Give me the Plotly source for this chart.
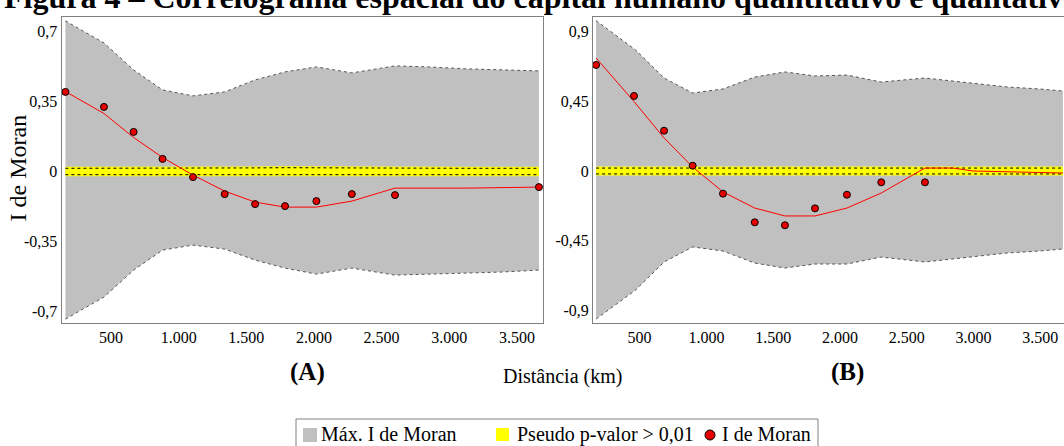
import plotly.graph_objects as go

W, H = 1064, 446
FONT = "Liberation Serif"

# ---------------- Panel A data ----------------
dist_a = [163, 448, 667, 881, 1106, 1340, 1565, 1786, 2018, 2280, 2599, 3663]
moran_a = [0.398, 0.323, 0.198, 0.063, -0.028, -0.113, -0.163, -0.173, -0.148, -0.113, -0.118, -0.078]
smooth_dist_a = [163, 448, 667, 881, 1106, 1340, 1565, 1786, 2018, 2280, 2599, 3138, 3663]
smooth_a = [0.40, 0.29, 0.17, 0.07, -0.018, -0.098, -0.153, -0.178, -0.178, -0.148, -0.083, -0.083, -0.078]
band_dist_a = [163, 448, 667, 881, 1106, 1340, 1565, 1786, 2018, 2280, 2599, 2848, 3138, 3376, 3663]
max_a = [0.753, 0.643, 0.508, 0.408, 0.378, 0.398, 0.458, 0.498, 0.523, 0.493, 0.528, 0.523, 0.513, 0.508, 0.503]
min_a = [-0.738, -0.628, -0.493, -0.393, -0.368, -0.388, -0.443, -0.483, -0.513, -0.483, -0.518, -0.513, -0.508, -0.503, -0.493]
p_hi_a = [0.016, 0.016, 0.015, 0.017, 0.016, 0.016, 0.018, 0.019, 0.018, 0.016, 0.016, 0.016, 0.016, 0.016, 0.016]
p_lo_a = [-0.016, -0.016, -0.016, -0.016, -0.016, -0.016, -0.016, -0.017, -0.016, -0.016, -0.016, -0.016, -0.016, -0.016, -0.016]

# ---------------- Panel B data ----------------
dist_b = [174, 458, 683, 897, 1124, 1362, 1588, 1813, 2052, 2309, 2636]
moran_b = [0.684, 0.484, 0.260, 0.034, -0.146, -0.331, -0.350, -0.241, -0.153, -0.073, -0.073]
smooth_dist_b = [174, 458, 683, 897, 1124, 1362, 1588, 1813, 2052, 2309, 2636, 2846, 2996, 3250, 3669]
smooth_b = [0.729, 0.448, 0.213, 0.026, -0.135, -0.239, -0.290, -0.290, -0.239, -0.142, 0.019, 0.019, 0.0, -0.006, -0.013]
band_dist_b = [174, 470, 683, 897, 1124, 1362, 1588, 1813, 2052, 2309, 2636, 2996, 3250, 3497, 3669]
max_b = [0.970, 0.781, 0.600, 0.503, 0.529, 0.606, 0.639, 0.613, 0.619, 0.574, 0.600, 0.568, 0.542, 0.529, 0.516]
min_b = [-0.955, -0.768, -0.587, -0.490, -0.516, -0.594, -0.626, -0.600, -0.600, -0.555, -0.587, -0.555, -0.529, -0.516, -0.503]
p_hi_b = [0.019, 0.019, 0.019, 0.02, 0.02, 0.019, 0.019, 0.019, 0.02, 0.019, 0.019, 0.019, 0.019, 0.019, 0.019]
p_lo_b = [-0.019, -0.019, -0.019, -0.019, -0.019, -0.019, -0.019, -0.019, -0.019, -0.019, -0.019, -0.019, -0.019, -0.019, -0.019]

x_tickvals = [500, 1000, 1500, 2000, 2500, 3000, 3500]
x_ticktext = ["500", "1.000", "1.500", "2.000", "2.500", "3.000", "3.500"]
ya_tickvals = [0.7, 0.35, 0, -0.35, -0.7]
ya_ticktext = ["0,7", "0,35", "0", "-0,35", "-0,7"]
yb_tickvals = [0.9, 0.45, 0, -0.45, -0.9]
yb_ticktext = ["0,9", "0,45", "0", "-0,45", "-0,9"]

legend_labels = ["Máx. I de Moran", "Pseudo p-valor > 0,01", "I de Moran"]

GRAY = "#c0c0c0"
YELLOW = "#ffff00"
RED = "#ff0000"


def px(x):
    return x / W


def py(y):
    return 1 - y / H


fig = go.Figure()


def add_panel(xa, ya, bd, mn, mx, plo, phi, sd, sm, d, m):
    common = dict(xaxis=xa, yaxis=ya, showlegend=False, hoverinfo="skip")
    fig.add_trace(go.Scatter(x=bd, y=mn, mode="lines",
                             line=dict(color="#555555", width=1, dash="dot"), **common))
    fig.add_trace(go.Scatter(x=bd, y=mx, mode="lines", fill="tonexty", fillcolor=GRAY,
                             line=dict(color="#555555", width=1, dash="dot"), **common))
    fig.add_trace(go.Scatter(x=bd, y=plo, mode="lines",
                             line=dict(color=YELLOW, width=3), **common))
    fig.add_trace(go.Scatter(x=bd, y=phi, mode="lines", fill="tonexty", fillcolor=YELLOW,
                             line=dict(color=YELLOW, width=3), **common))
    fig.add_trace(go.Scatter(x=bd, y=plo, mode="lines",
                             line=dict(color="#000000", width=1, dash="dot"), **common))
    fig.add_trace(go.Scatter(x=bd, y=phi, mode="lines",
                             line=dict(color="#000000", width=1, dash="dot"), **common))
    fig.add_trace(go.Scatter(x=sd, y=sm, mode="lines",
                             line=dict(color=RED, width=1), **common))
    fig.add_trace(go.Scatter(x=d, y=m, mode="markers",
                             marker=dict(color="#e60000", size=7, line=dict(color="#000000", width=1)),
                             **common))


add_panel("x", "y", band_dist_a, min_a, max_a, p_lo_a, p_hi_a, smooth_dist_a, smooth_a, dist_a, moran_a)
add_panel("x2", "y2", band_dist_b, min_b, max_b, p_lo_b, p_hi_b, smooth_dist_b, smooth_b, dist_b, moran_b)

axis_common = dict(showgrid=False, zeroline=False, showline=True, mirror=True,
                   linecolor="#808080", linewidth=1, ticks="",
                   tickfont=dict(family=FONT, size=16, color="#000000"))

fig.update_layout(
    width=W, height=H,
    margin=dict(l=0, r=0, t=0, b=0),
    paper_bgcolor="#ffffff", plot_bgcolor="#ffffff",
    xaxis=dict(domain=[px(61.5), px(543)], range=[134, 3693], anchor="y",
               tickmode="array", tickvals=x_tickvals, ticktext=x_ticktext, **axis_common),
    yaxis=dict(domain=[py(323), py(17)], range=[-0.7575, 0.7725], anchor="x",
               tickmode="array", tickvals=ya_tickvals, ticktext=ya_ticktext, **axis_common),
    xaxis2=dict(domain=[px(593), 1.0], range=[151, 3677], anchor="y2",
                tickmode="array", tickvals=x_tickvals, ticktext=x_ticktext, **axis_common),
    yaxis2=dict(domain=[py(323), py(17)], range=[-0.9806, 0.9935], anchor="x2",
                tickmode="array", tickvals=yb_tickvals, ticktext=yb_ticktext, **axis_common),
)

ann = []
# title (partly cut off at the top in the reference)
ann.append(dict(text="<b>Figura 4 – Correlograma espacial do capital humano quantitativo e qualitativo</b>",
                x=px(2), y=py(-3), xref="paper", yref="paper", xanchor="left", yanchor="middle",
                showarrow=False, font=dict(family=FONT, size=32, color="#000000")))
ann.append(dict(text="I de Moran", x=px(17.5), y=py(168), xref="paper", yref="paper",
                textangle=-90, showarrow=False, xanchor="center", yanchor="middle",
                font=dict(family=FONT, size=24, color="#000000")))
ann.append(dict(text="Distância (km)", x=px(562), y=py(376), xref="paper", yref="paper",
                showarrow=False, xanchor="center", yanchor="middle",
                font=dict(family=FONT, size=20, color="#000000")))
ann.append(dict(text="<b>(A)</b>", x=px(307), y=py(372), xref="paper", yref="paper",
                showarrow=False, xanchor="center", yanchor="middle",
                font=dict(family=FONT, size=25, color="#000000")))
ann.append(dict(text="<b>(B)</b>", x=px(847), y=py(372), xref="paper", yref="paper",
                showarrow=False, xanchor="center", yanchor="middle",
                font=dict(family=FONT, size=25, color="#000000")))
# legend texts
for label, xl in zip(legend_labels, [319, 515, 720]):
    ann.append(dict(text=label, x=px(xl), y=py(434), xref="paper", yref="paper",
                    showarrow=False, xanchor="left", yanchor="middle",
                    font=dict(family=FONT, size=20, color="#000000")))

shapes = [
    dict(type="rect", xref="paper", yref="paper", x0=px(296), x1=px(818), y0=py(452), y1=py(419),
         line=dict(color="#808080", width=1), fillcolor="rgba(0,0,0,0)"),
    dict(type="rect", xref="paper", yref="paper", x0=px(303), x1=px(317), y0=py(442), y1=py(428),
         line=dict(width=0), fillcolor=GRAY),
    dict(type="rect", xref="paper", yref="paper", x0=px(496), x1=px(509), y0=py(441), y1=py(428),
         line=dict(width=0), fillcolor=YELLOW),
    dict(type="circle", xref="paper", yref="paper", x0=px(705), x1=px(715), y0=py(440), y1=py(430),
         line=dict(color="#000000", width=1), fillcolor="#e60000"),
]

fig.update_layout(annotations=ann, shapes=shapes)
fig.write_html("out.html")
